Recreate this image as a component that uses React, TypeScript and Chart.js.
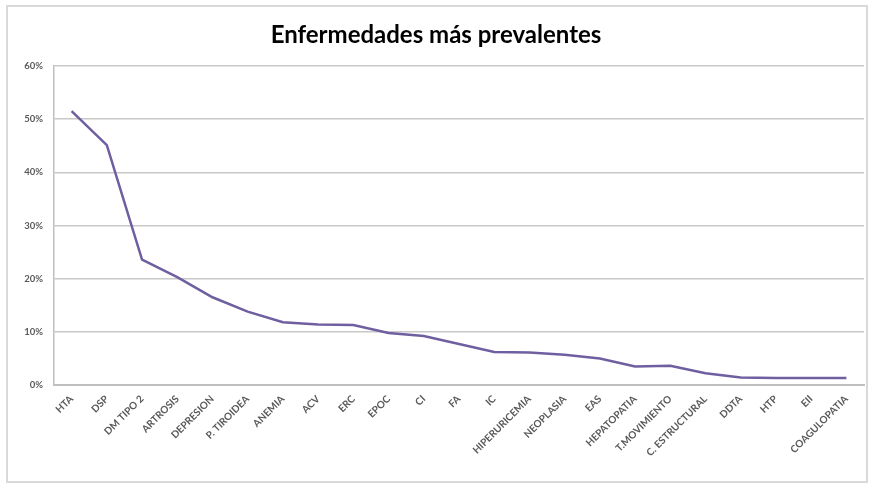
import React, { useEffect, useRef } from "react";
import { Chart, registerables } from "chart.js";

Chart.register(...registerables);

const categories = [
  "HTA", "DSP", "DM TIPO 2", "ARTROSIS", "DEPRESION", "P. TIROIDEA", "ANEMIA",
  "ACV", "ERC", "EPOC", "CI", "FA", "IC", "HIPERURICEMIA", "NEOPLASIA", "EAS",
  "HEPATOPATIA", "T.MOVIMIENTO", "C. ESTRUCTURAL", "DDTA", "HTP", "EII", "COAGULOPATIA",
];

const prevalence = [
  51.5, 45.1, 23.6, 20.3, 16.5, 13.8, 11.8,
  11.4, 11.3, 9.8, 9.2, 7.7, 6.2, 6.1, 5.7, 5.0,
  3.5, 3.6, 2.2, 1.4, 1.3, 1.3, 1.3,
];

const yTicks = [0, 10, 20, 30, 40, 50, 60];

const titleText = "Enfermedades más prevalentes";

export default function App() {
  const ref = useRef<HTMLCanvasElement>(null);

  useEffect(() => {
    if (!ref.current) return;
    const chart = new Chart(ref.current, {
      type: "line",
      data: {
        labels: categories,
        datasets: [
          {
            data: prevalence,
            borderColor: "#6f5fa0",
            borderWidth: 2.5,
            pointRadius: 0,
            tension: 0,
            fill: false,
          },
        ],
      },
      options: {
        animation: false,
        responsive: false,
        layout: { padding: { top: 5, left: 8, right: 5, bottom: 4 } },
        plugins: {
          legend: { display: false },
          tooltip: { enabled: false },
          title: {
            display: true,
            text: titleText,
            color: "#000000",
            font: { family: "Lato", size: 24, weight: "bold", lineHeight: 1.2 },
            padding: { top: 16, bottom: 16.2 },
          },
        },
        scales: {
          x: {
            offset: true,
            grid: { display: false, drawTicks: false },
            border: { display: true, color: "#bfbfbf", width: 2 },
            ticks: {
              autoSkip: false,
              maxRotation: 45,
              minRotation: 45,
              padding: 8,
              color: "#595959",
              font: { family: "Lato", size: 10, weight: "bold" },
            },
            afterFit: (scale: any) => {
              scale.height = 95;
            },
          },
          y: {
            min: 0,
            max: 60,
            afterBuildTicks: (scale: any) => {
              scale.ticks = yTicks.map((v) => ({ value: v }));
            },
            grid: { color: "#c8c8c8", lineWidth: 1.5, drawTicks: false },
            border: { display: true, color: "#bfbfbf", width: 1.5 },
            ticks: {
              padding: 11,
              color: "#595959",
              font: { family: "Lato", size: 9.5, weight: "bold" },
              callback: (v: any) => `${v}%`,
            },
            afterFit: (scale: any) => {
              scale.width = 46;
            },
          },
        },
      },
    });
    return () => chart.destroy();
  }, []);

  return (
    <div style={{ position: "fixed", left: 0, top: 0, width: 869, height: 484, background: "#ffffff" }}>
      <div
        style={{
          position: "absolute",
          left: 6,
          top: 5,
          width: 858,
          height: 474,
          border: "2px solid #d9d9d9",
        }}
      />
      <canvas
        ref={ref}
        width={869}
        height={484}
        style={{ position: "absolute", left: 0, top: 0, width: 869, height: 484 }}
      />
    </div>
  );
}
